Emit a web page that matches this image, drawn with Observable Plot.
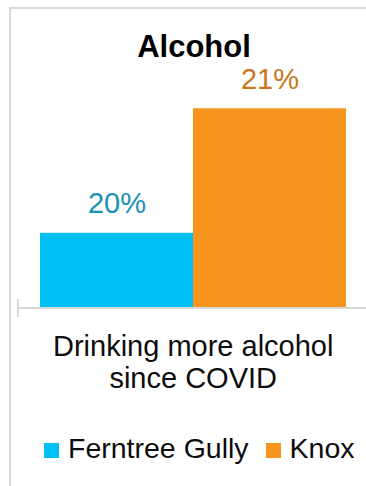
<!DOCTYPE html>
<html>
<head>
<meta charset="utf-8">
<script src="https://cdn.jsdelivr.net/npm/d3@7"></script>
<script src="https://cdn.jsdelivr.net/npm/@observablehq/plot@0.6"></script>
<style>
  html, body { margin: 0; padding: 0; background: #fff; overflow: hidden; }
  body { width: 366px; height: 486px; position: relative; font-family: "Liberation Sans", Arial, sans-serif; }
  #frame { position: absolute; left: 9px; top: 7px; width: 420px; height: 520px; border: 2px solid #d9d9d9; box-sizing: border-box; }
  #chart { position: absolute; left: 0; top: 0; }
  #title { position: absolute; left: 0; width: 388px; top: 28.7px; text-align: center; font-weight: bold; font-size: 31px; line-height: 35px; color: #000; }
  #legend { position: absolute; left: 44px; top: 432px; display: flex; align-items: center; font-size: 28.5px; line-height: 32px; color: #0d0d0d; white-space: nowrap; }
  #legend .item { display: flex; align-items: center; margin-right: 17px; }
  #legend .sw { width: 15px; height: 15px; margin-right: 9px; position: relative; top: 2px; }
</style>
</head>
<body>
<div id="frame"></div>
<div id="chart"></div>
<div id="title"></div>
<div id="legend"></div>
<script>
// ---- data ----
const chartTitle = "Alcohol";
const categories = ["Drinking more alcohol\nsince COVID"];
const series = ["Ferntree Gully", "Knox"];
const values = [20, 21];
const valueLabels = ["20%", "21%"];
const barColors = ["#00BFF3", "#F7941D"];
const labelColors = ["#1A91B8", "#C8781A"];
const yAxisMin = 19.4;

const data = series.map((s, i) => ({series: s, value: values[i], label: valueLabels[i], labelColor: labelColors[i]}));

const W = 366, H = 486;
const font = '"Liberation Sans", Arial, sans-serif';

const axisTick = (index, scales, values, dims) => {
  const y = scales.y(yAxisMin);
  const x = dims.marginLeft + 1;
  const g = d3.create("svg:g");
  g.append("line").attr("x1", x).attr("x2", x).attr("y1", y - 8.5).attr("y2", y + 9.5)
    .attr("stroke", "#d9d9d9").attr("stroke-width", 2);
  return g.node();
};

const plot = Plot.plot({
  width: W,
  height: H,
  marginLeft: 17,
  marginRight: 0,
  marginTop: 108.3,
  marginBottom: H - 307.5,
  style: {fontFamily: font, background: "transparent", overflow: "visible"},
  x: {domain: series, range: [40, 346], padding: 0, round: false, axis: null},
  y: {domain: [yAxisMin, 21], axis: null},
  color: {domain: series, range: barColors},
  marks: [
    Plot.barY(data, {x: "series", y1: () => yAxisMin, y2: "value", fill: "series"}),
    Plot.ruleY([yAxisMin], {stroke: "#d9d9d9", strokeWidth: 2}),
    axisTick,
    Plot.text(data, {x: "series", y: "value", text: "label", fill: "labelColor", fontSize: 29, lineAnchor: "bottom", dy: -20}),
    Plot.text(categories, {text: d => d, frameAnchor: "bottom", lineAnchor: "top", dy: 25, dx: 1.2, fontSize: 29, lineHeight: 32 / 29, fill: "#0d0d0d"})
  ]
});
document.getElementById("chart").appendChild(plot);

document.getElementById("title").textContent = chartTitle;

const legend = d3.select("#legend");
series.forEach((s, i) => {
  const item = legend.append("div").attr("class", "item");
  item.append("div").attr("class", "sw").style("background", barColors[i]);
  item.append("span").text(s);
});
</script>
</body>
</html>
